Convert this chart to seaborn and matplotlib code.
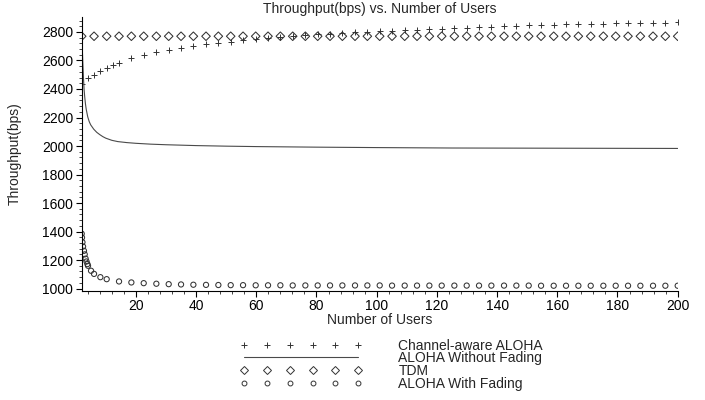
import matplotlib
matplotlib.use("Agg")
import matplotlib.pyplot as plt
from matplotlib.lines import Line2D
from matplotlib.ticker import MultipleLocator
import seaborn as sns

# grid of user counts used by the point series
grid_users = [2.0, 6.1, 10.3, 14.4, 18.5, 22.6, 26.8, 30.9, 35.0, 39.1,
              43.3, 47.4, 51.5, 55.6, 59.8, 63.9, 68.0, 72.1, 76.3, 80.4,
              84.5, 88.6, 92.8, 96.9, 101.0, 105.1, 109.3, 113.4, 117.5, 121.6,
              125.8, 129.9, 134.0, 138.1, 142.3, 146.4, 150.5, 154.6, 158.8, 162.9,
              167.0, 171.1, 175.3, 179.4, 183.5, 187.6, 191.8, 195.9, 200.0]

# TDM (diamonds)
tdm_users = grid_users
tdm_thr = [2770] * len(grid_users)

# Channel-aware ALOHA (plus markers)
ca_users = [2.0, 4.1, 6.1, 8.2, 10.3, 12.3, 14.4] + grid_users[4:]
ca_thr = [2435, 2475, 2498, 2528, 2550, 2566, 2585,
          2615, 2639, 2658, 2674, 2687, 2701, 2713, 2724, 2733, 2744,
          2752, 2759, 2766, 2772, 2778, 2783, 2788, 2793, 2798, 2802,
          2806, 2809, 2813, 2816, 2820, 2823, 2827, 2830, 2833, 2837,
          2840, 2843, 2846, 2848, 2851, 2853, 2855, 2857, 2858, 2860,
          2862, 2863, 2865, 2866, 2868]

# ALOHA With Fading (circles)
fad_users = [2.0, 2.1, 2.25, 2.45, 2.75, 3.0, 3.3, 3.6, 3.9, 4.1,
             5.1, 6.1, 8.2, 10.3] + grid_users[3:]
fad_thr = [1385, 1358, 1325, 1295, 1265, 1240, 1210, 1190, 1172, 1160,
           1125, 1103, 1080, 1066,
           1050, 1043, 1038, 1034, 1031, 1029, 1027, 1026, 1025, 1024,
           1024, 1023, 1023, 1023, 1022, 1022, 1022, 1022, 1022, 1022,
           1022, 1022, 1021, 1021, 1021, 1021, 1021, 1021, 1021, 1021,
           1021, 1021, 1021, 1021, 1020, 1020, 1020, 1020, 1020, 1020,
           1020, 1020, 1020, 1020, 1020, 1020]

# ALOHA Without Fading (solid line)
nof_users = [2.0, 2.2, 2.4, 2.6, 2.8, 3.0, 3.25, 3.5, 4.0, 4.5, 5.0, 6.0,
             7.0, 8.0, 9.0, 10, 12, 14, 17, 20, 25, 30, 40, 50, 60, 80,
             100, 125, 150, 175, 200]
nof_thr = [2765, 2680, 2570, 2470, 2395, 2345, 2295, 2258, 2205, 2171,
           2148, 2118, 2096, 2080, 2066, 2055, 2040, 2031, 2024, 2019,
           2013, 2009, 2003, 1999, 1996, 1992, 1989, 1986, 1985, 1984, 1983]

sns.set_theme(style="ticks")
plt.rcParams['font.family'] = ['Liberation Sans', 'DejaVu Sans']
plt.rcParams['font.size'] = 10

W, H = 705, 400
fig = plt.figure(figsize=(W / 100, H / 100), dpi=100)
ax = fig.add_axes([81.7 / W, 1 - 291 / H, 596 / W, 274 / H])

mk = '#333333'
ln = '#4a4a4a'
sns.lineplot(x=nof_users, y=nof_thr, ax=ax, color=ln, linewidth=0.8,
             sort=False, estimator=None)
sns.scatterplot(x=ca_users, y=ca_thr, ax=ax, marker='+', s=16, color=mk,
                linewidth=0.7, legend=False)
sns.scatterplot(x=tdm_users, y=tdm_thr, ax=ax, marker='D', s=19,
                facecolor='none', edgecolor=mk, linewidth=0.75, legend=False)
sns.scatterplot(x=fad_users, y=fad_thr, ax=ax, marker='o', s=14,
                facecolor='none', edgecolor=mk, linewidth=0.75, legend=False)

ax.set_xlim(2, 200)
ax.set_ylim(983, 2905)
ax.xaxis.set_major_locator(MultipleLocator(20))
ax.xaxis.set_minor_locator(MultipleLocator(4))
ax.yaxis.set_major_locator(MultipleLocator(200))
ax.yaxis.set_minor_locator(MultipleLocator(40))
ax.tick_params(which='major', length=4, width=0.8, pad=2, labelsize=10, colors='black')
ax.tick_params(which='minor', length=2, width=0.6)
sns.despine(ax=ax)
for s in ('left', 'bottom'):
    ax.spines[s].set_linewidth(0.8)
    ax.spines[s].set_color('black')

ax.set_title('Throughput(bps) vs. Number of Users', fontsize=10, pad=3)
ax.set_xlabel('Number of Users', fontsize=10)
ax.set_ylabel('Throughput(bps)', fontsize=10)
ax.xaxis.set_label_coords(0.5, -0.082)
ax.yaxis.set_label_coords(-0.100, 0.5)

handles = [
    Line2D([], [], marker='+', linestyle='none', color=mk, markersize=4, mew=0.7),
    Line2D([], [], color=ln, linewidth=0.8),
    Line2D([], [], marker='D', linestyle='none', color=mk, markersize=4,
           mfc='none', mew=0.7),
    Line2D([], [], marker='o', linestyle='none', color=mk, markersize=3.5,
           mfc='none', mew=0.7),
]
labels = ['Channel-aware ALOHA', 'ALOHA Without Fading', 'TDM', 'ALOHA With Fading']
fig.legend(handles, labels, loc='upper left', bbox_to_anchor=(240 / W, 1 - 338.5 / H),
           frameon=False, numpoints=6, handlelength=8.8, handletextpad=2.6,
           borderpad=0, borderaxespad=0, labelspacing=-0.09, fontsize=10)

fig.savefig('out.png', dpi=100)
